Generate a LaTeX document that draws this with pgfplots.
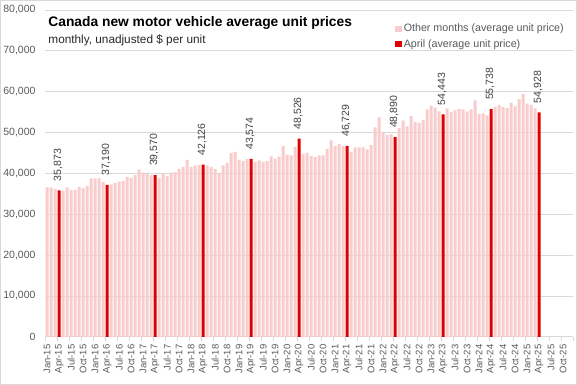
\documentclass[border=0pt]{standalone}
\usepackage{pgfplots}
\pgfplotsset{compat=1.18}
\usepackage{fontspec}
\setmainfont{Liberation Sans}
\definecolor{pinkbar}{RGB}{248,204,204}
\definecolor{redbar}{RGB}{224,0,0}
\definecolor{ticktext}{RGB}{89,89,89}
\definecolor{gridc}{RGB}{217,217,217}
\begin{document}
\begin{tikzpicture}[x=1pt,y=1pt]
\begin{axis}[
  at={(0pt,0pt)}, anchor=south west,
  scale only axis, width=528pt, height=327pt,
  xmin=-0.5, xmax=131.5, ymin=0, ymax=80000,
  ytick={0,10000,...,80000},
  scaled y ticks=false,
  yticklabel style={/pgf/number format/fixed,/pgf/number format/1000 sep={,},
     font=\fontsize{10.5}{12}\selectfont, text=ticktext, xshift=-2pt},
  /pgf/number format/assume math mode=true,
  xtick={0,3,...,129},
  minor xtick={-0.5,2.5,...,131.5},
  xticklabels={Jan-15,Apr-15,Jul-15,Oct-15,Jan-16,Apr-16,Jul-16,Oct-16,Jan-17,Apr-17,Jul-17,Oct-17,Jan-18,Apr-18,Jul-18,Oct-18,Jan-19,Apr-19,Jul-19,Oct-19,Jan-20,Apr-20,Jul-20,Oct-20,Jan-21,Apr-21,Jul-21,Oct-21,Jan-22,Apr-22,Jul-22,Oct-22,Jan-23,Apr-23,Jul-23,Oct-23,Jan-24,Apr-24,Jul-24,Oct-24,Jan-25,Apr-25,Jul-25,Oct-25},
  xticklabel style={rotate=90, anchor=east, font=\fontsize{9.5}{11}\selectfont, text=ticktext},
  axis x line*=bottom, axis y line*=left,
  x axis line style={draw=gridc, line width=0.8pt},
  y axis line style={draw=none},
  major x tick style={draw=none},
  minor x tick style={draw=gridc, line width=0.8pt},
  minor tick length=4pt, tick align=outside,
  ytick style={draw=none},
  ymajorgrids, grid style={draw=gridc, line width=0.8pt},
  ybar, bar width=3pt, bar shift=0pt,
  legend style={draw=none, fill=none, at={(350pt,315pt)}, anchor=north west,
     font=\fontsize{10.7}{12}\selectfont, text=ticktext, inner sep=0pt,
     row sep=2pt, cells={anchor=west}},
  legend cell align=left,
  legend image code/.code={\fill[#1,draw=none] (0pt,-3.2pt) rectangle (6.5pt,3.2pt);},
]
\addplot[fill=pinkbar, draw=none] coordinates {
(0,36600) (1,36600) (2,36200) (4,35700) (5,36600) (6,36000) (7,36000) (8,36700) (9,36400) (10,36900) (11,38800)
(12,38800) (13,38800) (14,37900) (16,37300) (17,37600) (18,38000) (19,38200) (20,39100) (21,38900) (22,39600) (23,41000)
(24,40200) (25,40200) (26,39600) (28,38900) (29,40100) (30,39400) (31,40200) (32,40300) (33,41100) (34,41600) (35,43300)
(36,41600) (37,41900) (38,42100) (40,42000) (41,41600) (42,41100) (43,40100) (44,42000) (45,42600) (46,45000) (47,45300)
(48,43300) (49,43100) (50,43500) (52,42800) (53,43200) (54,42800) (55,43000) (56,44200) (57,43600) (58,44100) (59,46700)
(60,44600) (61,44400) (62,46500) (64,44700) (65,45000) (66,44300) (67,44000) (68,44400) (69,44400) (70,46000) (71,48100)
(72,46700) (73,47200) (74,46700) (76,45200) (77,46400) (78,46400) (79,46400) (80,45900) (81,46900) (82,51300) (83,53700)
(84,50000) (85,49400) (86,49600) (88,51100) (89,52900) (90,51500) (91,54000) (92,52600) (93,52400) (94,53100) (95,55700)
(96,56600) (97,56100) (98,55200) (100,55900) (101,55000) (102,55500) (103,55800) (104,55700) (105,55200) (106,55700) (107,57900)
(108,54500) (109,54700) (110,54200) (112,56300) (113,56800) (114,56300) (115,56000) (116,57300) (117,56400) (118,58200) (119,59500)
(120,57100) (121,56800) (122,55900)
};
\addlegendentry{Other months (average unit price)}
\addplot[fill=redbar, draw=none,
  nodes near coords={\pgfmathprintnumber[fixed,1000 sep={,},assume math mode=true]{\pgfplotspointmeta}},
  every node near coord/.append style={anchor=west, inner sep=0pt, yshift=9pt, xshift=-1pt, rotate=90,
     font=\fontsize{10.5}{12}\selectfont, text=black!75}] coordinates {
(3,35873) (15,37190) (27,39570) (39,42126) (51,43574) (63,48526) (75,46729) (87,48890) (99,54443) (111,55738) (123,54928)
};
\addlegendentry{April (average unit price)}
\end{axis}
\node[anchor=west, inner sep=0pt, font=\bfseries\fontsize{13.8}{16}\selectfont] at (3pt,314pt) {Canada new motor vehicle average unit prices};
\node[anchor=west, inner sep=0pt, font=\fontsize{11.8}{13}\selectfont, text=black!85] at (3pt,297pt) {monthly, unadjusted \$ per unit};
\draw[gridc, line width=0.8pt] (-44.6pt,-47.6pt) rectangle (531.6pt,336.6pt);
\end{tikzpicture}
\end{document}
